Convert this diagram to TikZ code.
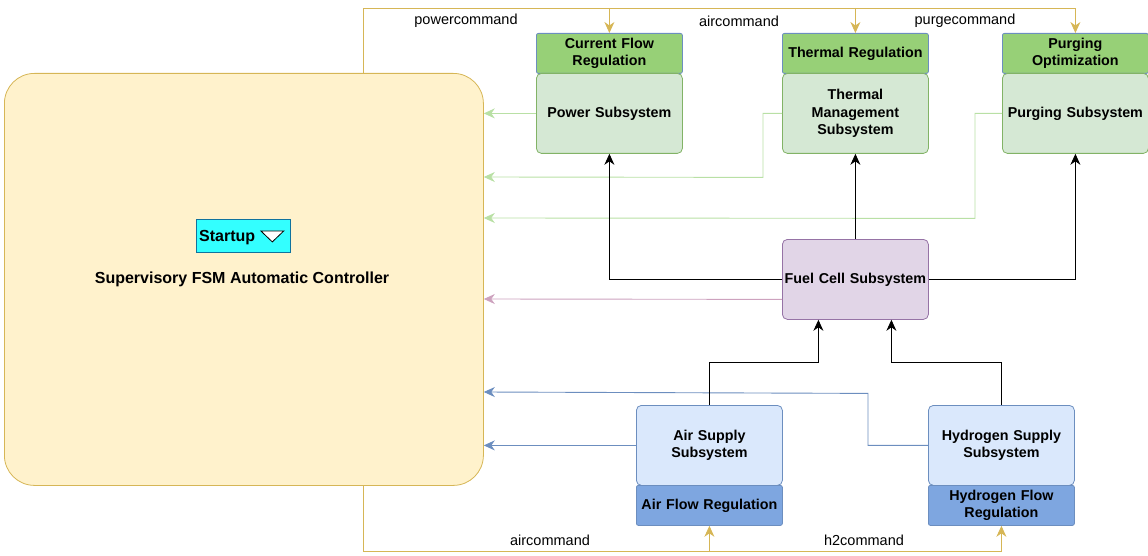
\documentclass[tikz,border=0pt]{standalone}
\usepackage{fontspec}
\setmainfont{Liberation Sans}
\usetikzlibrary{arrows.meta,calc}
\definecolor{ctrlfill}{HTML}{FFF2CC}
\definecolor{ctrlline}{HTML}{D6B656}
\definecolor{subfill}{HTML}{D5E8D4}
\definecolor{subline}{HTML}{82B366}
\definecolor{hdrfill}{HTML}{97D077}
\definecolor{blueline}{HTML}{6C8EBF}
\definecolor{fcfill}{HTML}{E1D5E7}
\definecolor{fcline}{HTML}{9673A6}
\definecolor{airfill}{HTML}{DAE8FC}
\definecolor{regfill}{HTML}{7EA6E0}
\definecolor{greenconn}{HTML}{B9E0A5}
\definecolor{purpleconn}{HTML}{CDA2BE}
\definecolor{cyanfill}{HTML}{33FFFF}
\definecolor{cyanline}{HTML}{10739E}
\tikzset{
  tip/.style={-{Stealth[length=11pt,width=10pt,inset=3.5pt]}},
  box/.style={draw, line width=0.8pt, anchor=north west, inner sep=0pt,
    align=center, font=\fontsize{14.3}{17.5}\selectfont\bfseries},
  subbox/.style={box, rounded corners=5pt, fill=subfill, draw=subline,
    minimum width=146pt, minimum height=80pt, text width=144pt},
  hdrbox/.style={box, rounded corners=2pt, fill=hdrfill, draw=blueline,
    minimum width=146pt, minimum height=40pt, text width=144pt},
  fcbox/.style={subbox, fill=fcfill, draw=fcline},
  airbox/.style={subbox, fill=airfill, draw=blueline},
  regbox/.style={hdrbox, fill=regfill, draw=blueline},
  yconn/.style={draw=ctrlline, line width=0.9pt},
  gconn/.style={draw=greenconn, line width=0.9pt, tip},
  bconn/.style={draw=blueline, line width=0.9pt, tip},
  kconn/.style={draw=black, line width=0.9pt, tip},
  lbl/.style={font=\fontsize{14.5}{17}\selectfont},
}
\begin{document}
\begin{tikzpicture}[x=1pt,y=-1pt]
\useasboundingbox (0,0) rectangle (1148,556);

% supervisory controller
\node[box, fill=ctrlfill, draw=ctrlline, rounded corners=30pt,
  minimum width=479pt, minimum height=412pt, text width=470pt] (ctrl) at (4,73) {};
\node[font=\fontsize{16}{19}\selectfont\bfseries] (ctrltxt) at (242,279.5)
  {Supervisory FSM Automatic Controller};
\node[draw=cyanline, fill=cyanfill, line width=0.8pt, anchor=north west,
  minimum width=94pt, minimum height=33pt, inner sep=0pt] (startup) at (196,219) {};
\node[font=\fontsize{16}{19}\selectfont\bfseries, anchor=west, inner sep=0pt] (startuptxt)
  at ($(startup.west)+(3,1.5)$) {Startup};
\draw[fill=white, line width=0.8pt] ($(startup.east)+(-30,-5)$) -- ++(23,0)
  -- ++(-11.5,11) -- cycle;

% top row
\node[hdrbox] (cfr) at (536,33) {Current Flow\\Regulation};
\node[subbox] (power) at (536,73) {Power Subsystem};
\node[hdrbox] (threg) at (782,33) {Thermal Regulation};
\node[subbox] (therm) at (782,73) {Thermal\\Management\\Subsystem};
\node[hdrbox] (purgeopt) at (1002,33) {Purging\\Optimization};
\node[subbox] (purge) at (1002,73) {Purging Subsystem};

% middle
\node[fcbox] (fuel) at (782,239) {Fuel Cell Subsystem};

% bottom row
\node[airbox] (air) at (636,405) {Air Supply\\Subsystem};
\node[regbox] (airreg) at (636,485) {Air Flow Regulation};
\node[airbox] (h2) at (928,405) {Hydrogen Supply\\Subsystem};
\node[regbox] (h2reg) at (928,485) {Hydrogen Flow\\Regulation};

% command lines from the controller (top)
\coordinate (ctop) at (363,73);
\draw[yconn, tip] (ctop) |- (purgeopt.north |- 0,8) -- (purgeopt.north);
\draw[yconn, tip] (cfr.north |- 0,8) -- (cfr.north);
\draw[yconn, tip] (threg.north |- 0,8) -- (threg.north);
\node[lbl] (lpower) at (466,21) {powercommand};
\node[lbl] (lair1) at (739,21) {aircommand};
\node[lbl] (lpurge) at (965,21) {purgecommand};

% command lines from the controller (bottom)
\coordinate (cbot) at (363,485);
\draw[yconn, tip] (cbot) |- (h2reg.south |- 0,551) -- (h2reg.south);
\draw[yconn, tip] (airreg.south |- 0,551) -- (airreg.south);
\node[lbl] (lair2) at (550,540) {aircommand};
\node[lbl] (lh2) at (864,540) {h2command};

% feedback to the controller
\draw[gconn] (power.west) -- (ctrl.east |- power.west);
\draw[gconn] (therm.west) -- ++(-19,0) -- ++(0,64) -- (ctrl.east |- 0,177);
\draw[gconn] (purge.west) -- ++(-27,0) -- ++(0,105) -- (ctrl.east |- 0,218);
\draw[draw=purpleconn, line width=0.9pt, tip] ($(fuel.west)+(0,20)$) -- (ctrl.east |- 0,299);
\draw[bconn] (h2.west) -- ++(-60,0) -- ++(0,-52) -- (ctrl.east |- 0,392);
\draw[bconn] (air.west) -- (ctrl.east |- air.west);

% fuel cell distribution
\draw[kconn] (fuel.west) -| (power.south);
\draw[kconn] (fuel.north) -- (therm.south);
\draw[kconn] (fuel.east) -| (purge.south);

% supplies into the fuel cell
\draw[kconn] (air.north) -- ++(0,-43) -| ($(fuel.south)+(-37,0)$);
\draw[kconn] (h2.north) -- ++(0,-43) -| ($(fuel.south)+(36,0)$);
\end{tikzpicture}
\end{document}
